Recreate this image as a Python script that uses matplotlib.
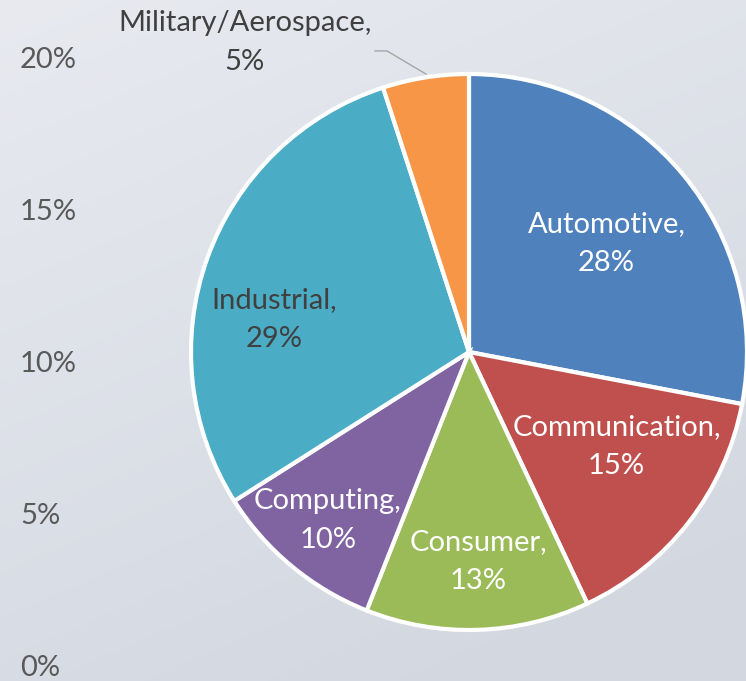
import numpy as np
import matplotlib
matplotlib.use("Agg")
import matplotlib.pyplot as plt

sectors = ["Automotive", "Communication", "Consumer", "Computing", "Industrial", "Military/Aerospace"]
shares = [28, 15, 13, 10, 29, 5]
colors = ["#4F81BD", "#C0504D", "#9BBB59", "#8064A2", "#4BACC6", "#F79646"]
label_colors = ["white", "white", "white", "white", "#404040", "#404040"]
axis_ticks = [0, 5, 10, 15, 20]

W, H = 746, 681
FS = 21
LS = 1.62
plt.rcParams["font.family"] = ["Lato", "DejaVu Sans"]

fig = plt.figure(figsize=(W / 100, H / 100), dpi=100)

# background gradient
bg = fig.add_axes([0, 0, 1, 1])
yy, xx = np.mgrid[0:1:200j, 0:1:200j]
t = np.clip(0.75 * yy + 0.35 * xx, 0, 1)[..., None]
top = np.array([232, 234, 240]) / 255
bot = np.array([210, 215, 224]) / 255
bg.imshow(top * (1 - t) + bot * t, aspect="auto", extent=[0, 1, 0, 1], origin="upper")
bg.axis("off")

# leftover value axis labels
ya = fig.add_axes([20 / W - 0.001, 1 - 666 / H, 0.001, (666 - 57) / H])
ya.set_ylim(0, 20)
ya.yaxis.tick_right()
ya.set_yticks(axis_ticks)
ya.set_yticklabels([f"{v}%" for v in axis_ticks], fontsize=FS, color="#595959")
ya.tick_params(length=0, pad=0)
ya.set_xticks([])
for s in ya.spines.values():
    s.set_visible(False)
ya.patch.set_alpha(0)

# pie
cx, cy, r = 469, 352, 278
ax = fig.add_axes([(cx - r) / W, 1 - (cy + r) / H, 2 * r / W, 2 * r / H])
wedges, _ = ax.pie(shares, colors=colors, startangle=90, counterclock=False,
                   wedgeprops=dict(edgecolor="white", linewidth=3))
ax.set_xlim(-1, 1)
ax.set_ylim(-1, 1)
ax.set_aspect("auto")
ax.axis("off")

# label placement (radius, angle shift in deg) per wedge
placement = [(0.63, -1.3), (0.63, 5.1), (0.755, 0.7), (0.79, -0.4), (0.71, 10.4)]
for w, name, val, col, (rad, shift) in zip(wedges, sectors, shares, label_colors, placement):
    ang = np.deg2rad((w.theta1 + w.theta2) / 2 + shift)
    ax.text(rad * np.cos(ang), rad * np.sin(ang), f"{name},\n{val}%",
            ha="center", va="center", fontsize=FS, color=col, linespacing=LS)

# outside label for the smallest slice
ax.text(-0.806, 1.112, f"{sectors[5]},\n{shares[5]}%", ha="center", va="center",
        fontsize=FS, color=label_colors[5], linespacing=LS, clip_on=False)
ax.plot([-0.338, -0.295, -0.155], [1.083, 1.083, 1.0], color="#A6A6A6", lw=1, clip_on=False)

fig.savefig("out.png", dpi=100)
